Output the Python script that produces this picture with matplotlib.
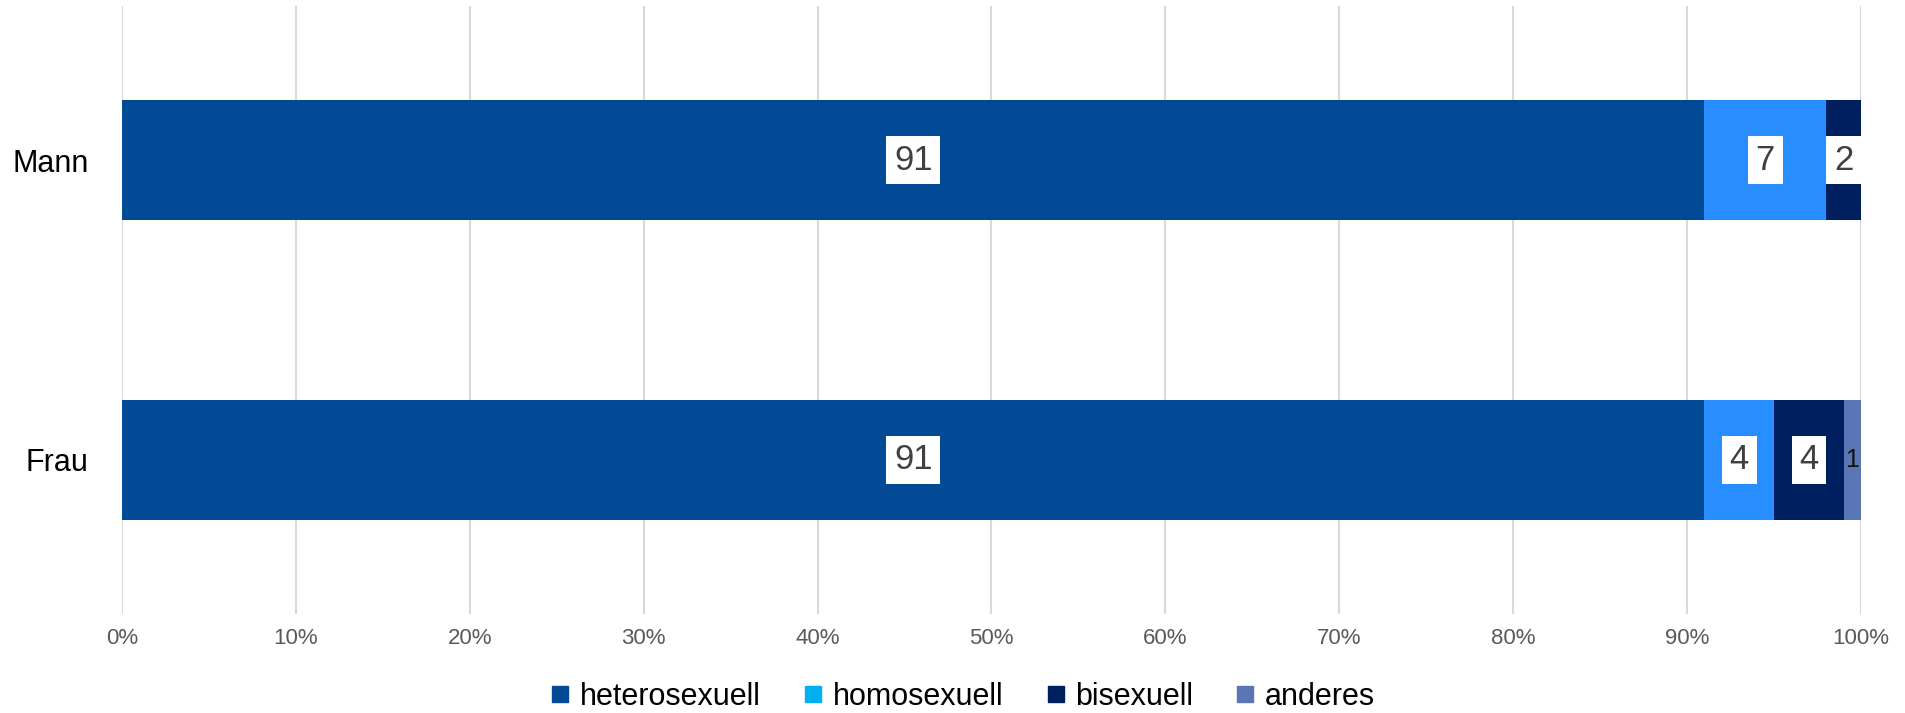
import matplotlib
matplotlib.use("Agg")
import matplotlib.pyplot as plt
from matplotlib.lines import Line2D
import numpy as np

plt.rcParams["font.family"] = ["Liberation Sans Narrow", "Liberation Sans", "DejaVu Sans"]

categories = ["Mann", "Frau"]
series = ["heterosexuell", "homosexuell", "bisexuell", "anderes"]
values = {
    "heterosexuell": [91, 91],
    "homosexuell": [7, 4],
    "bisexuell": [2, 4],
    "anderes": [0, 1],
}
xticks = [0, 10, 20, 30, 40, 50, 60, 70, 80, 90, 100]

BAR_COLOR = {
    "heterosexuell": "#034A96",
    "homosexuell": "#288EFF",
    "bisexuell": "#001F5E",
    "anderes": "#5A76B4",
}
# the legend swatch for homosexuell is a lighter cyan than the bar itself
LEGEND_COLOR = {
    "heterosexuell": "#034A96",
    "homosexuell": "#00B0F0",
    "bisexuell": "#001F5E",
    "anderes": "#5A76B4",
}

fig = plt.figure(figsize=(19.06, 7.13), dpi=100)
ax = fig.add_axes([122 / 1906, 1 - 614 / 713, (1861 - 122) / 1906, (614 - 6) / 713])

y = np.arange(len(categories))
left = np.zeros(len(categories))
for s in series:
    vals = np.array(values[s], dtype=float)
    ax.barh(y, vals, left=left, height=0.40, color=BAR_COLOR[s], zorder=3)
    for yi, (l, v) in enumerate(zip(left, vals)):
        if v <= 0:
            continue
        cx = l + v / 2
        if v >= 2:
            ax.text(cx, yi, f"{v:.0f}", ha="center", va="center", fontsize=25,
                    color="#404040", zorder=4,
                    bbox=dict(boxstyle="square,pad=0.22", fc="white", ec="none"))
        else:
            ax.text(cx, yi, f"{v:.0f}", ha="center", va="center", fontsize=18,
                    color="#111111", zorder=4)
    left += vals

ax.set_xlim(0, 100)
ax.set_ylim(1.515, -0.515)
ax.set_xticks(xticks)
ax.set_xticklabels([f"{t}%" for t in xticks], fontsize=16, color="#595959")
ax.set_yticks(y)
ax.set_yticklabels(categories, fontsize=22, color="#000000")
ax.tick_params(axis="both", length=0)
ax.tick_params(axis="x", pad=10)
ax.tick_params(axis="y", pad=24)
for sp in ax.spines.values():
    sp.set_visible(False)
ax.grid(axis="x", color="#D9D9D9", lw=1.5, zorder=0)

handles = [Line2D([], [], marker="s", ls="", color=LEGEND_COLOR[s], markersize=12)
           for s in series]
fig.legend(handles, series, loc="lower center", bbox_to_anchor=(0.505, 0.002),
           ncol=4, frameon=False, fontsize=22, handlelength=0.7,
           handletextpad=0.3, columnspacing=1.35, borderaxespad=0,
           borderpad=0)

fig.savefig("out.png", dpi=100)
